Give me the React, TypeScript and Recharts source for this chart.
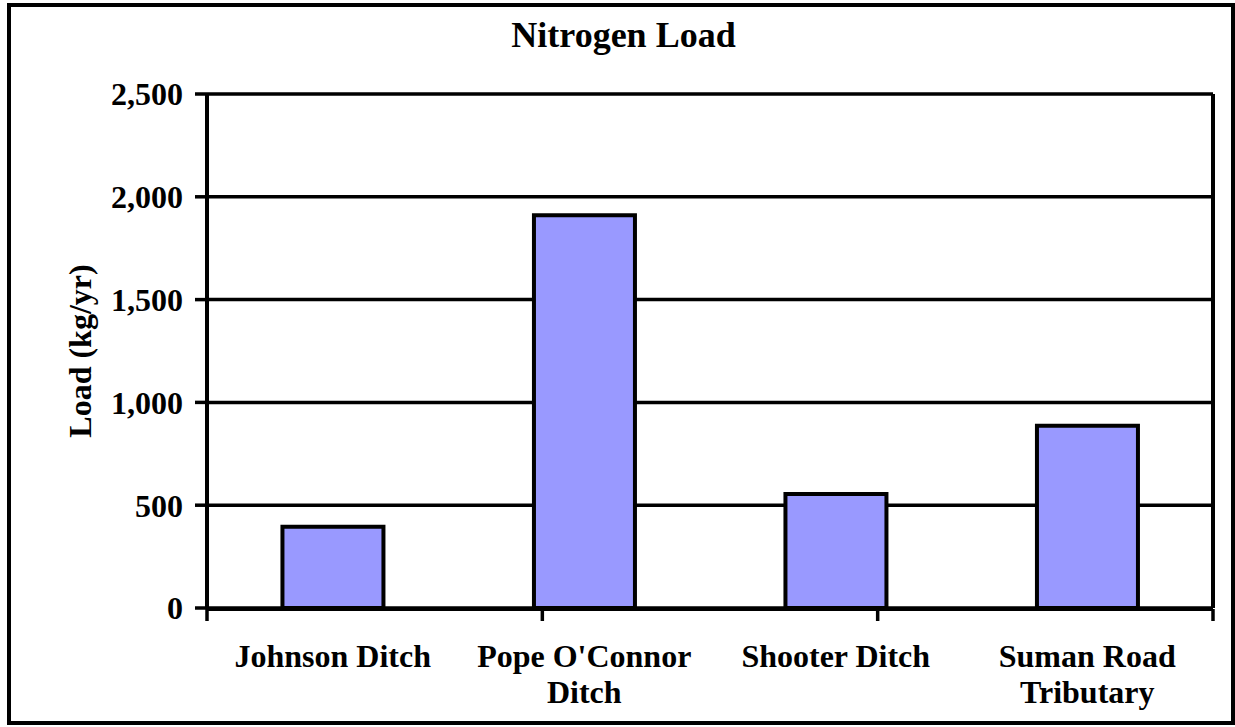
import {
  Bar,
  BarChart,
  CartesianGrid,
  XAxis,
  YAxis,
} from "recharts";

const categories = [
  "Johnson Ditch",
  "Pope O'Connor\nDitch",
  "Shooter Ditch",
  "Suman Road\nTributary",
];
const loads = [395, 1910, 555, 887];
const yTicks = [0, 500, 1000, 1500, 2000, 2500];
const edgeTicks = [0, 1, 2, 3, 4];

const FONT = '"Liberation Serif", "Times New Roman", serif';

const data = categories.map((name, i) => ({ name, load: loads[i] }));

function CategoryTick({ x, y, payload }: any) {
  const lines = String(payload.value).split("\n");
  return (
    <text
      x={x}
      y={y + 59}
      textAnchor="middle"
      fontFamily={FONT}
      fontWeight="bold"
      fontSize={32}
      fill="#000"
    >
      {lines.map((line, i) => (
        <tspan key={i} x={x} dy={i === 0 ? 0 : 36}>
          {line}
        </tspan>
      ))}
    </text>
  );
}

export default function App() {
  return (
    <div
      style={{
        position: "absolute",
        left: 0,
        top: 0,
        width: 1235,
        height: 727,
        background: "#fff",
      }}
    >
      <div
        style={{
          position: "absolute",
          left: 7,
          top: 3,
          width: 1228,
          height: 722,
          border: "4px solid #000",
          boxSizing: "border-box",
        }}
      />
      <div
        style={{
          position: "absolute",
          left: 6,
          top: 17,
          width: 1235,
          textAlign: "center",
          fontFamily: FONT,
          fontWeight: "bold",
          fontSize: 36,
          lineHeight: "36px",
        }}
      >
        Nitrogen Load
      </div>
      <BarChart
        width={1235}
        height={727}
        data={data}
        margin={{ top: 94, right: 21, bottom: 117, left: 0 }}
        barCategoryGap="30%"
        style={{ position: "absolute", left: 0, top: 0 }}
      >
        <CartesianGrid
          horizontal
          vertical={false}
          stroke="#000"
          strokeWidth={3.5}
        />
        <XAxis
          xAxisId="edge"
          type="number"
          domain={[0, 4]}
          ticks={edgeTicks}
          tickFormatter={() => ""}
          tick={{ fontSize: 1 }}
          tickSize={12}
          height={1}
          axisLine={{ stroke: "#000", strokeWidth: 4 }}
          tickLine={{ stroke: "#000", strokeWidth: 3.5 }}
        />
        <XAxis
          xAxisId="cat"
          dataKey="name"
          type="category"
          axisLine={false}
          tickLine={false}
          tickSize={0}
          tickMargin={0}
          height={1}
          interval={0}
          tick={<CategoryTick />}
        />
        <YAxis
          width={207}
          domain={[0, 2500]}
          ticks={yTicks}
          tickSize={12}
          tickMargin={12}
          tickFormatter={(v: number) => v.toLocaleString("en-US")}
          tick={{
            fill: "#000",
            fontFamily: FONT,
            fontWeight: "bold",
            fontSize: 32,
          }}
          axisLine={{ stroke: "#000", strokeWidth: 4 }}
          tickLine={{ stroke: "#000", strokeWidth: 3.5 }}
          label={{
            value: "Load (kg/yr)",
            angle: -90,
            position: "center",
            dx: -24,
            fill: "#000",
            fontFamily: FONT,
            fontWeight: "bold",
            fontSize: 32,
          }}
        />
        <YAxis
          yAxisId="right"
          orientation="right"
          width={1}
          domain={[0, 2500]}
          tick={false}
          tickLine={false}
          axisLine={{ stroke: "#000", strokeWidth: 4 }}
        />
        <Bar
          xAxisId="cat"
          dataKey="load"
          fill="#9999FF"
          stroke="#000"
          strokeWidth={4}
          isAnimationActive={false}
        />
      </BarChart>
    </div>
  );
}
